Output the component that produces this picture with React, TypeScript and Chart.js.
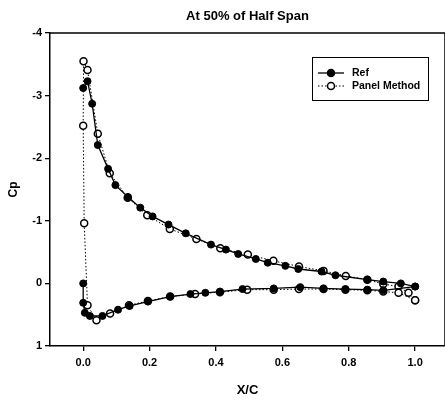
import React, { useEffect, useRef } from "react";
import { Chart, registerables } from "chart.js";

Chart.register(...registerables);

const TITLE = "At 50% of Half Span";
const X_LABEL = "X/C";
const Y_LABEL = "Cp";
const X_TICKS = [0, 0.2, 0.4, 0.6, 0.8, 1.0];

const refUpperX = [0.0, 0.013, 0.027, 0.044, 0.075, 0.097, 0.135, 0.172, 0.209, 0.257, 0.309, 0.385, 0.43, 0.467, 0.52, 0.556, 0.609, 0.648, 0.718, 0.76, 0.856, 0.904, 0.957, 1.0];
const refUpperCp = [-3.12, -3.23, -2.87, -2.21, -1.83, -1.57, -1.38, -1.21, -1.07, -0.94, -0.8, -0.62, -0.54, -0.47, -0.39, -0.33, -0.28, -0.23, -0.19, -0.13, -0.06, -0.03, 0.0, 0.05];

const refLowerX = [0.0, 0.0, 0.005, 0.02, 0.058, 0.105, 0.14, 0.195, 0.262, 0.323, 0.368, 0.412, 0.48, 0.574, 0.654, 0.724, 0.79, 0.856, 0.904, 1.0];
const refLowerCp = [0.0, 0.31, 0.47, 0.52, 0.52, 0.42, 0.36, 0.29, 0.21, 0.17, 0.15, 0.13, 0.09, 0.08, 0.06, 0.08, 0.09, 0.1, 0.11, 0.05];

const panelX = [1.0, 0.98, 0.95, 0.904, 0.856, 0.791, 0.724, 0.65, 0.573, 0.496, 0.413, 0.341, 0.261, 0.193, 0.134, 0.08, 0.044, 0.013, 0.001, 0.0, 0.003, 0.013, 0.04, 0.081, 0.138, 0.195, 0.262, 0.337, 0.412, 0.494, 0.574, 0.65, 0.724, 0.79, 0.856, 0.904, 0.95, 1.0];
const panelCp = [0.27, 0.15, 0.05, 0.01, -0.06, -0.12, -0.2, -0.27, -0.36, -0.46, -0.56, -0.71, -0.87, -1.09, -1.37, -1.76, -2.39, -3.41, -3.55, -2.52, -0.96, 0.35, 0.59, 0.48, 0.35, 0.28, 0.21, 0.17, 0.14, 0.1, 0.1, 0.09, 0.09, 0.1, 0.11, 0.13, 0.15, 0.27];

const FONT = "'Liberation Sans', Arial, sans-serif";

const pts = (xs: number[], ys: number[]) => xs.map((x, i) => ({ x, y: ys[i] }));

const framePlugin = {
  id: "frame",
  beforeDatasetsDraw(chart: any) {
    const { ctx, chartArea: a } = chart;
    ctx.save();
    ctx.strokeStyle = "#000";
    ctx.lineWidth = 1.5;
    ctx.beginPath();
    ctx.moveTo(a.left, a.top);
    ctx.lineTo(a.right, a.top);
    ctx.lineTo(a.right, a.bottom);
    ctx.stroke();
    ctx.restore();
  },
};

const legendPlugin = {
  id: "customLegend",
  afterDraw(chart: any) {
    const ctx = chart.ctx;
    const x0 = 312, y0 = 57, w = 116, h = 43;
    ctx.save();
    ctx.fillStyle = "#fff";
    ctx.fillRect(x0, y0, w, h);
    ctx.strokeStyle = "#000";
    ctx.lineWidth = 1;
    ctx.strokeRect(x0 + 0.5, y0 + 0.5, w, h);
    const rows = [
      { label: "Ref", y: 73, filled: true, dash: [] as number[] },
      { label: "Panel Method", y: 86, filled: false, dash: [1.5, 2] },
    ];
    for (const r of rows) {
      ctx.setLineDash(r.dash);
      ctx.lineWidth = r.filled ? 1.3 : 1;
      ctx.beginPath();
      ctx.moveTo(318, r.y);
      ctx.lineTo(344, r.y);
      ctx.stroke();
      ctx.setLineDash([]);
      ctx.beginPath();
      ctx.arc(331, r.y, 3.5, 0, Math.PI * 2);
      ctx.fillStyle = r.filled ? "#000" : "#fff";
      ctx.fill();
      ctx.lineWidth = 1.5;
      ctx.stroke();
      ctx.fillStyle = "#000";
      ctx.font = `bold 10.5px ${FONT}`;
      ctx.textBaseline = "middle";
      ctx.textAlign = "left";
      ctx.fillText(r.label, 352, r.y);
    }
    ctx.restore();
  },
};

export default function App() {
  const ref = useRef<HTMLCanvasElement | null>(null);
  useEffect(() => {
    if (!ref.current) return;
    const chart = new Chart(ref.current, {
      type: "scatter",
      data: {
        datasets: [
          {
            label: "Ref",
            data: pts(refUpperX, refUpperCp),
            showLine: true,
            borderColor: "#000",
            borderWidth: 1.3,
            backgroundColor: "#000",
            pointRadius: 3.5,
            pointBorderWidth: 1,
            pointBackgroundColor: "#000",
            pointBorderColor: "#000",
          },
          {
            label: "Ref lower",
            data: pts(refLowerX, refLowerCp),
            showLine: true,
            borderColor: "#000",
            borderWidth: 1.3,
            backgroundColor: "#000",
            pointRadius: 3.5,
            pointBorderWidth: 1,
            pointBackgroundColor: "#000",
            pointBorderColor: "#000",
          },
          {
            label: "Panel Method",
            data: pts(panelX, panelCp),
            showLine: true,
            borderColor: "#000",
            borderWidth: 1,
            borderDash: [1.5, 2],
            backgroundColor: "#fff",
            pointRadius: 3.5,
            pointBorderWidth: 1.5,
            pointBackgroundColor: "#fff",
            pointBorderColor: "#000",
          },
        ],
      },
      options: {
        animation: false,
        responsive: false,
        maintainAspectRatio: false,
        layout: { padding: 0, autoPadding: false },
        plugins: {
          legend: { display: false },
          tooltip: { enabled: false },
          title: {
            display: true,
            text: TITLE,
            fullSize: false,
            color: "#000",
            font: { family: FONT, size: 13, weight: "bold" },
            padding: { top: 9, bottom: 8.4 },
          },
        },
        scales: {
          x: {
            type: "linear",
            min: -0.1,
            max: 1.09,
            afterBuildTicks: (scale: any) => {
              scale.ticks = X_TICKS.map((v) => ({ value: v }));
            },
            afterFit: (scale: any) => {
              scale.height = 55;
              scale.paddingLeft = 0;
              scale.paddingRight = 0;
            },
            ticks: {
              autoSkip: false,
              maxRotation: 0,
              color: "#000",
              padding: 5,
              font: { family: FONT, size: 11, weight: "bold" },
              callback: (v: any) => Number(v).toFixed(1),
            },
            grid: { drawOnChartArea: false, drawTicks: true, tickLength: 5, color: "#000", lineWidth: 1.3 },
            border: { display: true, color: "#000", width: 1.5 },
            title: {
              display: true,
              text: X_LABEL,
              color: "#000",
              font: { family: FONT, size: 13, weight: "bold" },
              padding: { top: 0, bottom: 3 },
            },
          },
          y: {
            type: "linear",
            reverse: true,
            min: -4,
            max: 1,
            afterFit: (scale: any) => {
              scale.width = 50;
              scale.paddingTop = 0;
              scale.paddingBottom = 0;
            },
            ticks: {
              stepSize: 1,
              color: "#000",
              padding: 3,
              font: { family: FONT, size: 11, weight: "bold" },
              callback: (v: any) => String(v),
            },
            grid: { drawOnChartArea: false, drawTicks: true, tickLength: 5, color: "#000", lineWidth: 1.3 },
            border: { display: true, color: "#000", width: 1.5 },
            title: {
              display: true,
              text: Y_LABEL,
              color: "#000",
              font: { family: FONT, size: 12, weight: "bold" },
              padding: { top: 6, bottom: 0 },
            },
          },
        },
      },
      plugins: [framePlugin, legendPlugin],
    });
    return () => chart.destroy();
  }, []);
  return (
    <div style={{ position: "fixed", left: 0, top: 0, width: 445, height: 401, background: "#fff" }}>
      <canvas ref={ref} width={445} height={401} style={{ display: "block", width: 445, height: 401 }} />
    </div>
  );
}
